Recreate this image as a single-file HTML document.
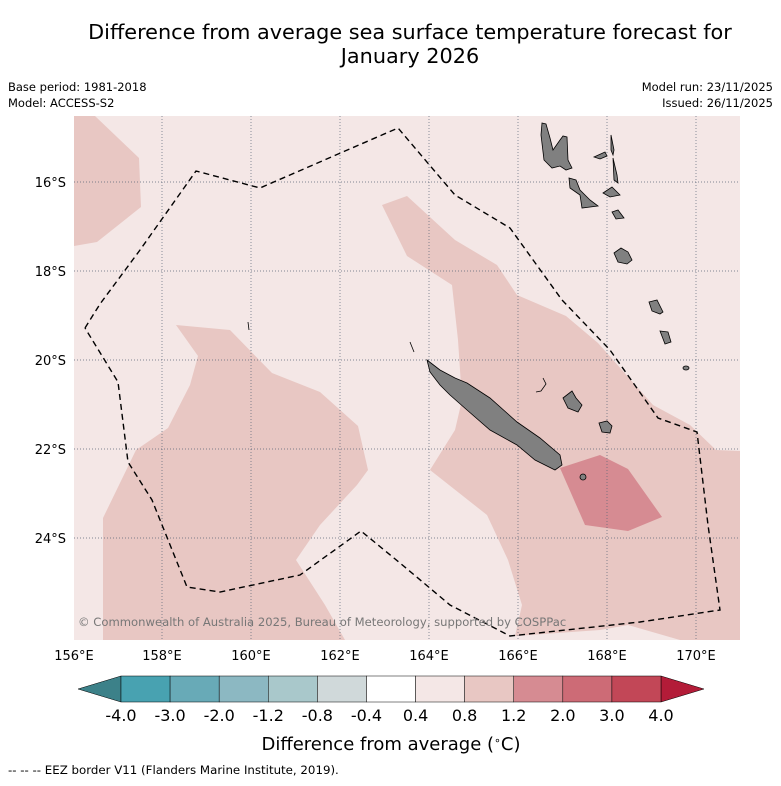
<!DOCTYPE html>
<html><head><meta charset="utf-8"><style>
body{margin:0;background:#fff;font-family:"Liberation Sans","DejaVu Sans",sans-serif}
svg text{font-family:"DejaVu Sans","Liberation Sans",sans-serif}
</style></head><body>
<svg id="chart" width="781" height="781" xmlns="http://www.w3.org/2000/svg">
<text x="410" y="39" font-size="20.8" text-anchor="middle">Difference from average sea surface temperature forecast for</text>
<text x="410" y="63" font-size="20.8" text-anchor="middle">January 2026</text>
<text x="8" y="91" font-size="11.5">Base period: 1981-2018</text>
<text x="8" y="107" font-size="11.5">Model: ACCESS-S2</text>
<text x="773" y="91" font-size="11.5" text-anchor="end">Model run: 23/11/2025</text>
<text x="773" y="107" font-size="11.5" text-anchor="end">Issued: 26/11/2025</text>
<g>
<rect x="74" y="116" width="666" height="524" fill="#f4e7e6"/>
<polygon fill="#e8c7c3" points="74,116 95,116 139,158 141,207 97,242 74,246"/>
<polygon fill="#e8c7c3" points="382,205 407,196 455,240 497,265 517,295 566,316 598,343 653,405 690,425 716,450 740,451 740,640 680,640 628,625 600,630 515,636 522,605 508,560 487,515 430,470 455,430 462,400 458,340 452,285 407,256"/>
<polygon fill="#e8c7c3" points="176,325 230,330 272,373 320,392 358,426 368,470 357,485 320,525 296,560 325,605 345,640 103,640 103,518 136,450 168,428 190,385 198,356"/>
<polygon fill="#d68b92" points="560,468 600,455 628,469 662,517 628,531 585,525"/>
<g stroke="#5a6678" stroke-width="0.7" stroke-dasharray="1,2">
<line x1="162" y1="116" x2="162" y2="640"/><line x1="251" y1="116" x2="251" y2="640"/><line x1="340" y1="116" x2="340" y2="640"/><line x1="429" y1="116" x2="429" y2="640"/><line x1="518" y1="116" x2="518" y2="640"/><line x1="607" y1="116" x2="607" y2="640"/><line x1="696" y1="116" x2="696" y2="640"/>
<line x1="74" y1="182" x2="740" y2="182"/><line x1="74" y1="271" x2="740" y2="271"/><line x1="74" y1="360" x2="740" y2="360"/><line x1="74" y1="449" x2="740" y2="449"/><line x1="74" y1="538" x2="740" y2="538"/>
</g>
<g fill="#808080" stroke="#000" stroke-width="0.8">
<polygon points="427,360 440,370 455,378 467,383 490,398 517,422 540,438 560,455 562,465 555,470 535,460 517,445 490,430 467,410 450,395 440,385 430,372"/>
<polygon points="563,398 572,391 576,398 582,405 578,412 568,408"/>
<polygon points="599,423 607,421 612,426 610,433 602,432"/>
<path d="M543,378 L546,384 L541,391 L536,392" fill="none"/>
<polygon points="542,123 546,124 550,138 553,150 560,140 563,136 567,137 568,160 572,168 566,170 560,166 552,168 544,160 541,135"/>
<polygon points="569,178 576,180 580,190 590,200 598,206 582,208 580,195 570,188"/>
<polygon points="594,157 605,152 607,156 600,159"/>
<polygon points="611,135 614,150 613,155 611,150"/>
<polygon points="613,158 617,175 618,183 614,180"/>
<polygon points="603,193 612,187 620,195 610,197"/>
<polygon points="612,212 618,210 624,218 616,219"/>
<polygon points="614,253 621,248 628,252 632,260 627,264 618,262"/>
<polygon points="649,302 657,300 663,312 660,314 652,311"/>
<polygon points="660,331 668,332 671,342 665,344"/>
<ellipse cx="686" cy="368" rx="3" ry="2"/>
<ellipse cx="583" cy="477" rx="3" ry="3"/>
<line x1="248" y1="322" x2="249" y2="330"/><line x1="410" y1="342" x2="414" y2="352"/>
</g>
<polyline fill="none" stroke="#000" stroke-width="1.4" stroke-dasharray="6,4" points="85,328 100,304 140,250 196,171 260,188 398,128 455,195 510,228 562,300 610,350 658,418 697,432 708,525 720,610 640,622 510,636 450,605 400,563 361,531 300,575 220,592 187,587 152,500 128,462 118,382 85,328"/>
<text x="78" y="626" font-size="11.6" fill="#777">© Commonwealth of Australia 2025, Bureau of Meteorology, supported by COSPPac</text>
</g>
<g font-size="13" text-anchor="end">
<text x="66" y="187">16°S</text><text x="66" y="276">18°S</text><text x="66" y="365">20°S</text><text x="66" y="454">22°S</text><text x="66" y="543">24°S</text>
</g>
<g font-size="13" text-anchor="middle">
<text x="74" y="660">156°E</text><text x="162" y="660">158°E</text><text x="251" y="660">160°E</text><text x="340" y="660">162°E</text><text x="429" y="660">164°E</text><text x="518" y="660">166°E</text><text x="607" y="660">168°E</text><text x="696" y="660">170°E</text>
</g>
<g id="colorbar"></g>
<text x="391" y="750" font-size="18" text-anchor="middle">Difference from average (<tspan baseline-shift="super" font-size="11">∘</tspan>C)</text>
<text x="8" y="774" font-size="11.8">--  --  -- EEZ border V11 (Flanders Marine Institute, 2019).</text>
</svg>
<script>
const tickLabels=["-4.0","-3.0","-2.0","-1.2","-0.8","-0.4","0.4","0.8","1.2","2.0","3.0","4.0"];
const binColors=["#48a2b1","#68aab7","#8cb8c2","#a9c8cb","#d0d9da","#ffffff","#f4e7e6","#e8c7c3","#d68b92","#cd6b76","#c24757"];
const lowColor="#3c8189", highColor="#b31c38";
const NS="http://www.w3.org/2000/svg";
const cb=document.getElementById('colorbar');
const x0=121,x1=661,y0=676,h=26,w=(x1-x0)/binColors.length;
function mk(t,a){const e=document.createElementNS(NS,t);for(const k in a)e.setAttribute(k,a[k]);cb.appendChild(e);return e;}
let p=mk('polygon',{points:`${x0},${y0} 78,${y0+h/2} ${x0},${y0+h}`,fill:lowColor,stroke:'#000','stroke-width':0.5});


p=mk('polygon',{points:`${x1},${y0} 704,${y0+h/2} ${x1},${y0+h}`,fill:highColor,stroke:'#000','stroke-width':0.5});


binColors.forEach((c,i)=>{
  const r=mk('rect',{x:x0+i*w,y:y0,width:w,height:h,fill:c,stroke:'#000','stroke-width':0.5});
  
  
});
tickLabels.forEach((t,i)=>{
  const e=mk('text',{x:x0+i*w,y:721,'font-size':16,'text-anchor':'middle'});
  e.textContent=t;
  
  
});
</script>
</body></html>
